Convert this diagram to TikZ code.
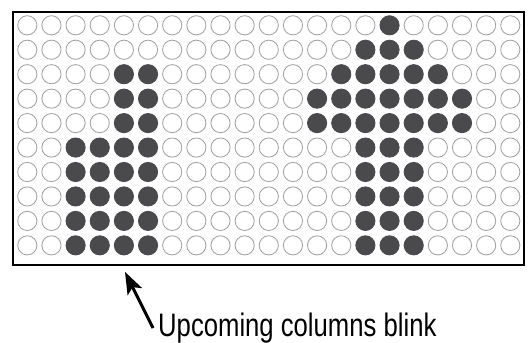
\documentclass[tikz,border=0pt]{standalone}
\usepackage{fontspec}
\usepackage{tikz}
\usetikzlibrary{arrows.meta,calc,positioning}
\newfontfamily\blinkfont[FakeStretch=0.79]{Liberation Sans}
\definecolor{ledrim}{RGB}{162,162,162}
\definecolor{ledlit}{RGB}{74,74,76}

\begin{document}
\begin{tikzpicture}[>=Stealth,x=1pt,y=-1pt,
    led/.style={circle,line width=0.85pt,minimum size=19.2pt,inner sep=0pt}]
  \useasboundingbox (0,0) rectangle (528,343);
  \draw[line width=2pt] (13,12) rectangle (523.5,265);
  % row / lit range on the left / lit range on the right
  \foreach \r/\la/\lb/\ra/\rb in {1/0/0/16/16,2/0/0/15/17,3/5/6/14/18,4/5/6/13/19,
      5/5/6/13/19,6/3/6/15/17,7/3/6/15/17,8/3/6/15/17,9/3/6/15/17,10/3/6/15/17}
    \foreach \c in {1,...,21} {
      \pgfmathtruncatemacro\on{((\c>\la-1)&&(\c<\lb+1))||((\c>\ra-1)&&(\c<\rb+1))}
      \ifnum\on=1 \def\ledfill{ledlit}\def\ledline{ledlit}%
      \else \def\ledfill{white}\def\ledline{ledrim}\fi
      \node[led,fill=\ledfill,draw=\ledline] (c-\c-\r)
        at ({27.3+24.15*(\c-1)},{25.3+24.45*(\r-1)}) {};
    }
  \node[anchor=base west,inner sep=0pt,font=\blinkfont\fontsize{32.5}{36}\selectfont]
    (blinklabel) at (158,336.7) {Upcoming columns blink};
  \coordinate (tail) at ($(blinklabel.base west)+(-5,-8.7)$);
  \coordinate (tip) at ($(c-5-10)+(1.1,26.6)$);
  \draw[line width=3pt,-{Stealth[length=22pt,width=16pt,inset=5pt]}] (tail) -- (tip);
\end{tikzpicture}
\end{document}
